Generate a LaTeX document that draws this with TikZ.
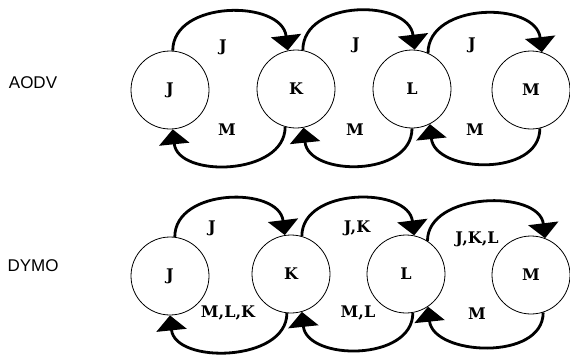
\documentclass[tikz,border=0pt]{standalone}
\usepackage{fontspec}
\setmainfont{DejaVu Serif}
\newfontfamily\protofont{Liberation Sans}
\usetikzlibrary{arrows.meta}
\begin{document}
\begin{tikzpicture}[x=1pt,y=-1pt,
  station/.style={circle,draw,line width=0.8pt,minimum size=78pt,inner sep=0pt,font=\fontsize{16}{16}\selectfont\bfseries},
  link/.style={line width=2.8pt,-{Triangle[width=30pt,length=15pt]}},
  lbl/.style={font=\fontsize{16}{16}\selectfont\bfseries,inner sep=0pt},
  proto/.style={font=\protofont\fontsize{17}{17}\selectfont,inner sep=0pt}]
\useasboundingbox (0,0) rectangle (570,356);
% AODV row
\node[proto] (aodv) at (33,83) {AODV};
\node[station] (J1) at (170,90) {J};
\node[station] (K1) at (296,89) {K};
\node[station] (L1) at (412,89) {L};
\node[station] (M1) at (531,90) {M};
\draw[link] (J1.86) .. controls +(0,-51) and +(-6,-51) .. (K1.102);
\draw[link] (K1.80) .. controls +(0,-51) and +(-6,-51) .. (L1.86);
\draw[link] (L1.66) .. controls +(0,-51) and +(-6,-51) .. (M1.74);
\draw[link] (K1.254) .. controls +(0,49) and +(5,49) .. (J1.274);
\draw[link] (L1.270) .. controls +(0,49) and +(5,49) .. (K1.281);
\draw[link] (M1.283) .. controls +(0,49) and +(5,49) .. (L1.297);
\node[lbl] (a1) at (223,47) {J};
\node[lbl] (a2) at (356,45) {J};
\node[lbl] (a3) at (472,45) {J};
\node[lbl] (b1) at (227,130) {M};
\node[lbl] (b2) at (355,130) {M};
\node[lbl] (b3) at (475,130) {M};
% DYMO row
\node[proto] (dymo) at (33,266) {DYMO};
\node[station] (J2) at (170,276) {J};
\node[station] (K2) at (291,274) {K};
\node[station] (L2) at (406,274) {L};
\node[station] (M2) at (531,275) {M};
\draw[link] (J2.83) .. controls +(0,-49) and +(-6,-49) .. (K2.99);
\draw[link] (K2.74) .. controls +(0,-49) and +(-6,-49) .. (L2.78);
\draw[link] (L2.57) .. controls +(0,-49) and +(-6,-49) .. (M2.69);
\draw[link] (K2.264) .. controls +(0,49) and +(5,49) .. (J2.270);
\draw[link] (L2.280) .. controls +(0,49) and +(5,49) .. (K2.286);
\draw[link] (M2.288) .. controls +(0,49) and +(5,49) .. (L2.304);
\node[lbl] (c1) at (212,228) {J};
\node[lbl] (c2) at (357,228) {J,K};
\node[lbl] (c3) at (477,239) {J,K,L};
\node[lbl] (d1) at (228,313) {M,L,K};
\node[lbl] (d2) at (358,313) {M,L};
\node[lbl] (d3) at (477,314) {M};
\end{tikzpicture}
\end{document}
